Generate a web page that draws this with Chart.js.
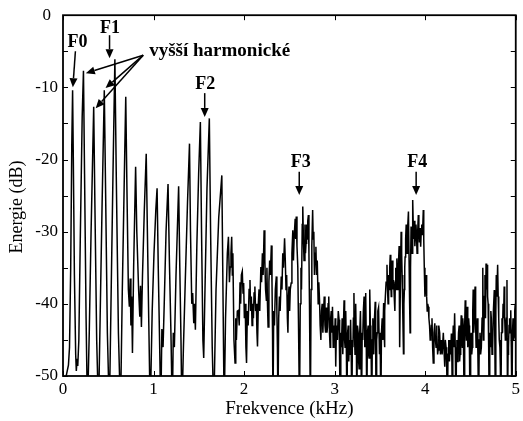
<!DOCTYPE html>
<html><head><meta charset="utf-8">
<script src="https://cdn.jsdelivr.net/npm/chart.js@4/dist/chart.umd.min.js"></script>
<style>html,body{margin:0;padding:0;background:#fff;}#wrap{width:523px;height:421px;}</style>
</head><body><div id="wrap"><canvas id="c" width="523" height="421"></canvas></div>
<script>
// ---- data (frequency kHz, energy dB) ----
const xTicks = [0, 1, 2, 3, 4, 5];
const yTicks = [0, -10, -20, -30, -40, -50];
const yMinorTicks = [-5, -15, -25, -35, -45];
const xTitle = 'Frekvence (kHz)';
const yTitle = 'Energie (dB)';
const spectrum = [
 [0.000,-55],[0.030,-50.3],[0.060,-48.5],[0.072,-46],[0.085,-35],[0.097,-18],[0.106,-10.4],[0.114,-20],[0.126,-36],[0.140,-47],[0.147,-49.3],[0.156,-47.6],[0.163,-48.6],[0.175,-45],[0.192,-30],[0.212,-14],[0.226,-7.7],[0.238,-22],[0.255,-42],[0.270,-55],
 [0.290,-44],[0.310,-30],[0.339,-12.7],[0.352,-26],[0.372,-45],[0.392,-55],
 [0.410,-42],[0.432,-26],[0.456,-10.4],[0.470,-24],[0.490,-44],[0.512,-55],
 [0.530,-40],[0.552,-22],[0.573,-6.1],[0.588,-22],[0.612,-44],[0.635,-55],
 [0.655,-38],[0.675,-24],[0.693,-11.3],[0.706,-24],[0.722,-38],[0.733,-40.4],[0.742,-36.5],[0.750,-43],[0.758,-39],[0.767,-46.8],[0.780,-35],[0.802,-21.0],
 [0.815,-30],[0.835,-38],[0.848,-41.8],[0.856,-37.5],[0.866,-43.2],[0.878,-36],[0.898,-27],[0.919,-19.2],[0.932,-30],[0.948,-43],[0.963,-55],
 [0.985,-41],[1.005,-33],[1.025,-27],[1.039,-24.0],[1.052,-35],[1.065,-44],[1.080,-55],[1.092,-43.5],[1.105,-46],[1.118,-40],[1.138,-30],[1.160,-23.4],[1.175,-34],[1.192,-44],[1.207,-55],[1.218,-44],[1.230,-46],[1.248,-36],[1.277,-23.7],[1.290,-35],[1.303,-45],[1.313,-55],[1.330,-46],[1.350,-37],[1.375,-26],[1.397,-17.8],
 [1.408,-30],[1.422,-40],[1.432,-38.5],[1.444,-42.7],[1.452,-40],[1.462,-43.6],[1.478,-32],[1.498,-22],[1.517,-14.8],[1.530,-30],[1.545,-45],[1.554,-47.5],[1.565,-40],[1.590,-24],[1.616,-14.3],[1.630,-30],[1.648,-46],[1.665,-55],[1.690,-38],[1.720,-28],[1.754,-22.2],[1.768,-40],[1.780,-55],[1.795,-42],[1.815,-33],[1.827,-30.7],[1.838,-37],[1.846,-34.9],[1.855,-33],[1.863,-30.7],
 [1.870,-36],[1.876,-33],[1.888,-45],[1.900,-48.2],[1.908,-42],[1.915,-45],[1.925,-41],[1.937,-40.9],[1.946,-43],[1.955,-37],[1.962,-40],[1.970,-36],[1.980,-35.5],[1.988,-38.5],[1.995,-37.1],[2.003,-42],[2.012,-40],[2.020,-46],[2.027,-48.2],[2.036,-41],[2.045,-43],[2.055,-38],[2.065,-36.7],[2.072,-41],[2.080,-39],[2.088,-43],[2.095,-40],[2.103,-42],[2.110,-38.5],[2.119,-37.6],[2.127,-41],[2.135,-40],[2.142,-44],[2.148,-45.9],[2.157,-40],[2.165,-38],[2.173,-41],[2.185,-34.9],[2.193,-37],[2.202,-33],[2.210,-36],[2.221,-29.8],[2.229,-34],[2.237,-38],[2.246,-39.5],[2.252,-35],[2.258,-40],[2.265,-43.2],[2.274,-37],[2.282,-34],[2.290,-36],[2.301,-31.9],[2.308,-37],[2.314,-44],[2.319,-55],[2.327,-41],[2.335,-43],[2.345,-38],[2.356,-36.2],[2.362,-41],[2.368,-46],[2.374,-55],[2.382,-42],[2.390,-39],[2.398,-41],[2.410,-36.2],[2.418,-38],[2.427,-33],[2.435,-35],[2.447,-30.9],[2.455,-34],[2.463,-38],[2.470,-36],[2.478,-42],[2.484,-44],[2.490,-39],[2.496,-37.6],[2.503,-41],[2.510,-38],[2.520,-37.1],[2.528,-33],[2.538,-29.8],[2.545,-34],[2.552,-31],[2.564,-28.2],[2.570,-31],[2.576,-27.9],[2.584,-32],[2.593,-34.9],[2.600,-42],[2.612,-55],
 [2.620,-40],[2.628,-35],[2.634,-38],[2.642,-29],[2.648,-26.5],[2.655,-31],[2.662,-34],[2.672,-29],[2.678,-33],[2.684,-31.6],[2.690,-29],[2.696,-31],[2.703,-28.5],[2.710,-27.7],[2.716,-33],[2.722,-40],[2.732,-55],[2.740,-38],[2.748,-32],[2.757,-27.0],[2.763,-31],[2.770,-30],[2.777,-36],[2.785,-33],[2.793,-32.1],[2.800,-36],[2.808,-34],[2.818,-40],[2.825,-37],[2.833,-39.5],[2.840,-43],[2.848,-45],[2.855,-41],[2.862,-40],[2.870,-44],[2.878,-41],[2.885,-39],[2.893,-43],[2.900,-44],[2.908,-40.5],[2.915,-44],[2.921,-43.2],[2.928,-40],[2.935,-39],[2.943,-44],[2.950,-46],[2.956,-42],[2.962,-41],[2.970,-44],[2.976,-40.4],[2.984,-46],[2.992,-43],[3.000,-45],[3.006,-42],[3.012,-48.7],
 [3.020,-43],[3.030,-45],[3.040,-41],[3.049,-42.2],[3.055,-48],[3.060,-55],[3.068,-44],[3.075,-46],[3.083,-42],[3.090,-47],[3.097,-43],[3.104,-39.5],[3.110,-45],[3.115,-46],[3.120,-42],[3.125,-41],[3.130,-47],[3.135,-55],[3.143,-44],[3.150,-43],[3.156,-48],[3.163,-45],[3.170,-47],[3.176,-42.2],[3.183,-47],[3.190,-55],[3.196,-45],[3.202,-46],[3.207,-42],[3.213,-38.5],[3.219,-44],[3.225,-47],[3.230,-42],[3.235,-40],[3.240,-46],[3.245,-55],[3.252,-43],[3.260,-44],[3.265,-48],[3.270,-49],[3.277,-44],[3.285,-41],[3.291,-46],[3.297,-55],[3.304,-44],[3.310,-45],[3.317,-41],[3.325,-39],[3.333,-46],[3.338,-42],[3.343,-38.5],[3.349,-45],[3.355,-55],[3.362,-44],[3.370,-43],[3.375,-47],[3.380,-47.5],[3.385,-42],[3.390,-38],[3.395,-43],[3.400,-44],[3.405,-49],[3.410,-55],[3.416,-45],[3.422,-42],[3.428,-46],[3.432,-47],[3.440,-42],[3.448,-39.7],[3.453,-46],[3.458,-55],[3.464,-45],[3.470,-44],[3.477,-41],[3.485,-40.5],[3.490,-44],[3.495,-47],[3.502,-44],[3.510,-55],[3.517,-44],[3.525,-42],[3.532,-45],[3.541,-39.9],[3.546,-44],[3.550,-46],[3.555,-41],[3.560,-39],[3.568,-37],[3.578,-34.6],[3.584,-38],[3.590,-40],
 [3.596,-36],[3.602,-38],[3.608,-35],[3.614,-33.2],[3.620,-37],[3.625,-39],[3.630,-35],[3.635,-34],[3.643,-38],[3.651,-36.7],[3.658,-39],[3.665,-41],[3.670,-37],[3.675,-35],[3.681,-38],[3.687,-33.7],[3.694,-36],[3.700,-38],[3.706,-34],[3.712,-32],[3.716,-40],[3.720,-46],[3.727,-36],[3.734,-30.0],[3.740,-33],[3.745,-36],[3.752,-41],[3.760,-46.9],[3.765,-40],[3.770,-38],[3.774,-35],[3.778,-33.5],[3.784,-31],[3.790,-29],[3.795,-32],[3.800,-33],[3.808,-29],[3.815,-27.2],[3.822,-34],[3.828,-40],[3.833,-44],[3.838,-35],[3.844,-29.3],[3.850,-31],[3.855,-33],[3.862,-25.6],[3.868,-29],[3.872,-31],[3.880,-28.5],[3.886,-32],[3.890,-31],[3.898,-29],[3.904,-30.5],[3.910,-33],[3.917,-30],[3.924,-27.7],[3.930,-30],[3.936,-31.5],[3.943,-29.5],[3.950,-32.1],[3.956,-30],[3.962,-29],[3.970,-30.5],[3.979,-27.0],[3.984,-31],[3.990,-35],[3.997,-39],[4.004,-37],[4.010,-36],[4.016,-39],[4.022,-41],[4.028,-40],[4.034,-40.4],[4.041,-42],[4.048,-43],[4.055,-45],[4.062,-44.5],[4.068,-43],[4.075,-42],[4.082,-46],[4.089,-48.2],[4.097,-44],[4.106,-42.7],[4.113,-45],[4.120,-46],[4.126,-43],[4.130,-44],[4.137,-47],[4.143,-46.4],[4.150,-43],[4.160,-44],[4.168,-47],[4.179,-45],[4.187,-47],[4.195,-47],[4.200,-44],[4.205,-44],[4.210,-47],[4.216,-48.7],[4.222,-45],[4.230,-46],[4.238,-49],[4.245,-55],
 [4.252,-47],[4.260,-45],[4.268,-48],[4.275,-45],[4.282,-47],[4.289,-44.1],[4.295,-48],[4.300,-55],[4.305,-45],[4.310,-43],[4.317,-46],[4.325,-41.3],[4.332,-46],[4.340,-55],[4.345,-47],[4.350,-45],[4.356,-48],[4.362,-46.9],[4.368,-44],[4.375,-43],[4.380,-48],[4.385,-47],[4.392,-44],[4.398,-41.6],[4.404,-45],[4.410,-46],[4.415,-42],[4.420,-43],[4.425,-48],[4.430,-55],[4.436,-43],[4.442,-39.5],[4.448,-43],[4.455,-45],[4.460,-42],[4.464,-40.4],[4.470,-46],[4.475,-45],[4.480,-42],[4.485,-43],[4.490,-48],[4.495,-55],[4.502,-45],[4.508,-44],[4.514,-47],[4.520,-46],[4.525,-41],[4.530,-38],[4.536,-44],[4.542,-42],[4.547,-39],[4.551,-37.6],[4.557,-43],[4.562,-46],[4.568,-44],[4.575,-42],[4.582,-47],[4.590,-55],[4.597,-45],[4.605,-44],[4.612,-47],[4.620,-46],[4.628,-42],[4.636,-35],[4.642,-45],[4.648,-44],[4.654,-39],[4.660,-36],[4.666,-42],[4.672,-34.4],[4.678,-38],[4.683,-34.6],[4.689,-39],[4.695,-40],[4.701,-46],[4.707,-55],[4.713,-44],[4.719,-45.9],[4.725,-41],[4.730,-42],[4.738,-47],[4.745,-46],[4.753,-41],[4.763,-38.1],[4.769,-45],[4.775,-55],[4.780,-41],[4.785,-36],[4.792,-39],[4.800,-34.6],[4.806,-39],[4.812,-42],[4.818,-45],[4.825,-46],[4.830,-49],[4.836,-55],[4.842,-44],[4.848,-42],[4.854,-44],[4.860,-40],[4.866,-42],[4.872,-37.6],[4.878,-42],[4.885,-45],[4.891,-43],[4.897,-42],[4.903,-36.7],[4.909,-55],[4.915,-47],[4.920,-46],[4.926,-43],[4.932,-42],[4.939,-44],[4.945,-40.9],[4.951,-46],[4.958,-55],[4.964,-44],[4.970,-42],[4.976,-45],[4.982,-44.6],[4.989,-41],[4.995,-40],[5.000,-41.3]
];
const labelTexts = ['F0', 'F1', 'F2', 'F3', 'F4', 'vyšší harmonické'];

// ---- annotation placement (data coordinates) ----
const annot = {
  labels: [
    {t: 0, x: 0.159, y: -3.74, align: 'center', size: 18},
    {t: 1, x: 0.520, y: -1.80, align: 'center', size: 18},
    {t: 2, x: 1.570, y: -9.56, align: 'center', size: 18},
    {t: 3, x: 2.626, y: -20.4, align: 'center', size: 18},
    {t: 4, x: 3.911, y: -20.4, align: 'center', size: 18},
    {t: 5, x: 0.952, y: -4.99, align: 'left', size: 19}
  ],
  arrows: [
    [0.137, -4.99, 0.109, -9.97],
    [0.514, -2.77, 0.514, -5.96],
    [1.565, -10.8, 1.565, -14.1],
    [2.609, -21.7, 2.609, -24.9],
    [3.900, -21.7, 3.900, -24.9],
    [0.886, -5.54, 0.252, -8.03],
    [0.886, -5.54, 0.470, -10.1],
    [0.886, -5.54, 0.361, -12.9]
  ]
};

const SERIF = '"Liberation Serif", "Times New Roman", serif';

const framePlugin = {
  id: 'frame',
  afterDatasetsDraw(chart) {
    const {ctx, chartArea: a, scales: {x, y}} = chart;
    ctx.save();
    ctx.strokeStyle = '#000';
    ctx.lineWidth = 1.8;
    ctx.strokeRect(a.left, a.top, a.right - a.left, a.bottom - a.top);
    ctx.lineWidth = 1;
    const L = 5;
    ctx.beginPath();
    xTicks.forEach(v => {
      const px = Math.round(x.getPixelForValue(v)) + 0.5;
      ctx.moveTo(px, a.bottom); ctx.lineTo(px, a.bottom - L);
      ctx.moveTo(px, a.top); ctx.lineTo(px, a.top + L);
    });
    yTicks.concat(yMinorTicks).forEach(v => {
      const py = Math.round(y.getPixelForValue(v)) + 0.5;
      ctx.moveTo(a.left, py); ctx.lineTo(a.left + L, py);
      ctx.moveTo(a.right, py); ctx.lineTo(a.right - L, py);
    });
    ctx.stroke();
    ctx.restore();
  },
  afterDraw(chart) {
    const {ctx, chartArea: a, scales: {x, y}} = chart;
    ctx.save();
    ctx.fillStyle = '#000';
    ctx.font = '19px ' + SERIF;
    ctx.textAlign = 'center';
    ctx.textBaseline = 'middle';
    ctx.fillText(xTitle, (a.left + a.right) / 2, 409);
    ctx.save();
    ctx.translate(17, 207);
    ctx.rotate(-Math.PI / 2);
    ctx.font = '18px ' + SERIF;
    ctx.fillText(yTitle, 0, 0);
    ctx.restore();
    annot.labels.forEach(l => {
      ctx.font = 'bold ' + l.size + 'px ' + SERIF;
      ctx.textAlign = l.align;
      ctx.fillText(labelTexts[l.t], x.getPixelForValue(l.x), y.getPixelForValue(l.y));
    });
    ctx.lineWidth = 1.5;
    ctx.strokeStyle = '#000';
    annot.arrows.forEach(([x1, y1, x2, y2]) => {
      const p1 = [x.getPixelForValue(x1), y.getPixelForValue(y1)];
      const p2 = [x.getPixelForValue(x2), y.getPixelForValue(y2)];
      const ang = Math.atan2(p2[1] - p1[1], p2[0] - p1[0]);
      const hl = 9, hw = 4;
      const bx = p2[0] - hl * Math.cos(ang), by = p2[1] - hl * Math.sin(ang);
      ctx.beginPath();
      ctx.moveTo(p1[0], p1[1]); ctx.lineTo(bx, by);
      ctx.stroke();
      ctx.beginPath();
      ctx.moveTo(p2[0], p2[1]);
      ctx.lineTo(bx + hw * Math.sin(ang), by - hw * Math.cos(ang));
      ctx.lineTo(bx - hw * Math.sin(ang), by + hw * Math.cos(ang));
      ctx.closePath();
      ctx.fill();
    });
    ctx.restore();
  }
};

new Chart(document.getElementById('c'), {
  type: 'line',
  data: {
    datasets: [{
      data: spectrum.map(p => ({x: p[0], y: p[1]})),
      borderColor: '#000',
      borderWidth: 1.5,
      pointRadius: 0,
      tension: 0,
      fill: false,
      clip: 0
    }]
  },
  options: {
    responsive: false,
    animation: false,
    devicePixelRatio: 1,
    layout: {padding: {top: 15, right: 3, left: 0, bottom: 0}},
    plugins: {legend: {display: false}, tooltip: {enabled: false}},
    scales: {
      x: {
        type: 'linear', min: 0, max: 5,
        afterBuildTicks: s => { s.ticks = xTicks.map(v => ({value: v})); },
        afterFit: s => { s.height = 45; },
        grid: {display: false, drawTicks: false},
        border: {display: false},
        ticks: {color: '#000', font: {family: SERIF, size: 17}, padding: 3, maxRotation: 0, callback: v => String(v)}
      },
      y: {
        type: 'linear', min: -50, max: 0,
        afterBuildTicks: s => { s.ticks = yTicks.map(v => ({value: v})); },
        afterFit: s => { s.width = 63; },
        grid: {display: false, drawTicks: false},
        border: {display: false},
        ticks: {color: '#000', font: {family: SERIF, size: 17}, padding: 5, crossAlign: 'center', callback: v => String(v)}
      }
    }
  },
  plugins: [framePlugin]
});
</script>
</body></html>
